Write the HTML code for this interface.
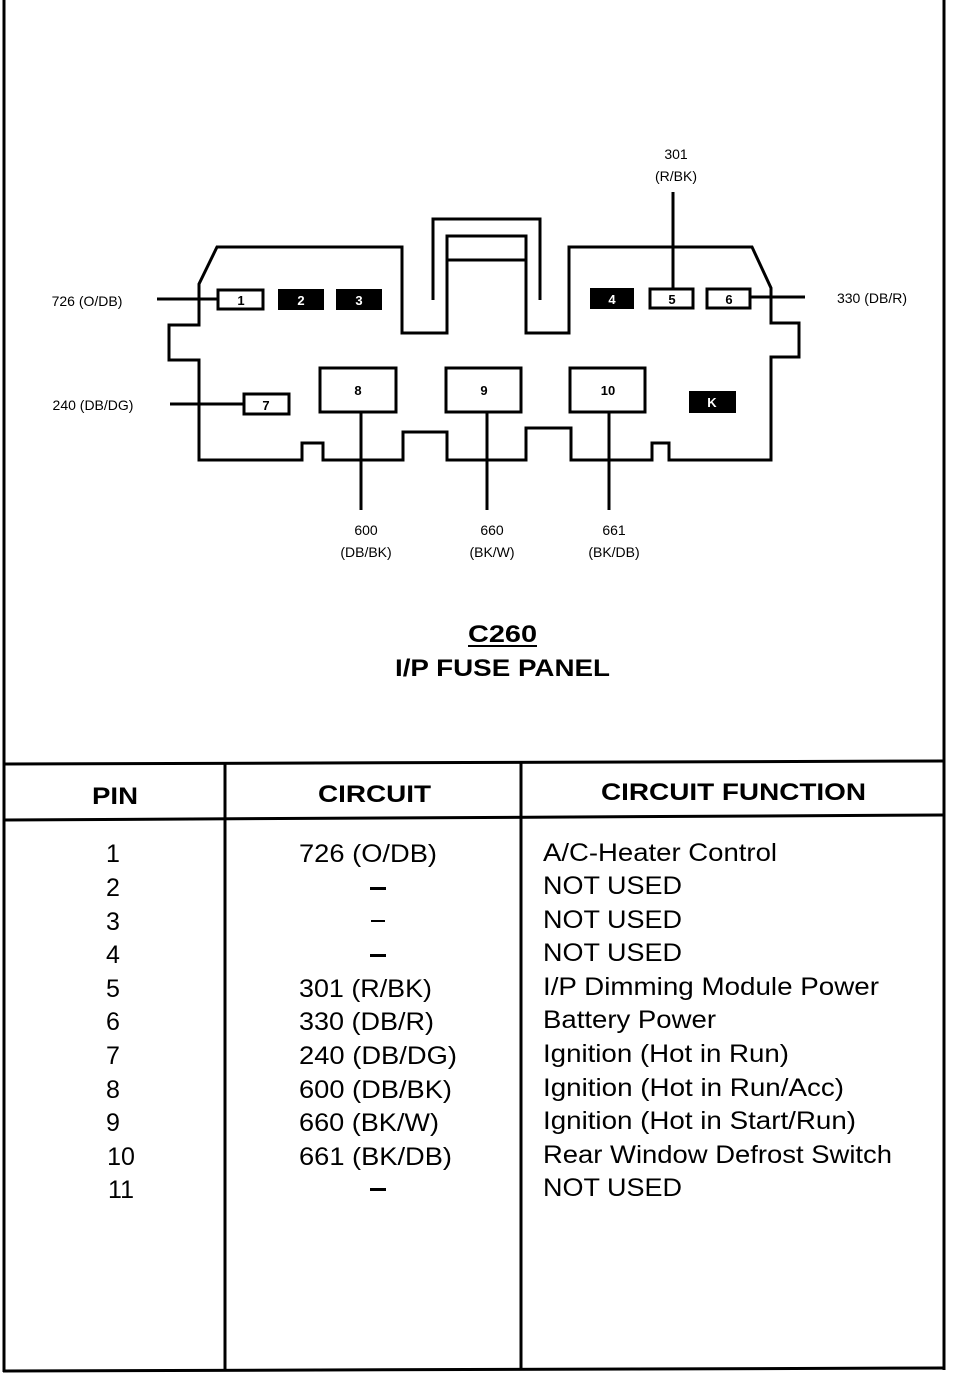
<!DOCTYPE html>
<html><head><meta charset="utf-8"><style>
html,body{margin:0;padding:0;background:#fff;}
svg{display:block;}
text{font-family:"Liberation Sans",Arial,sans-serif;fill:#000;}
</style></head><body>
<svg width="960" height="1378" viewBox="0 0 960 1378" xmlns="http://www.w3.org/2000/svg">
<g fill="none" stroke="#000" stroke-width="3">
<line x1="4" y1="0" x2="4" y2="1372"/>
<line x1="944" y1="0" x2="944" y2="1370"/>
<line x1="4" y1="764" x2="944" y2="761"/>
<line x1="4" y1="820" x2="944" y2="815"/>
<line x1="3" y1="1371" x2="944" y2="1368"/>
<line x1="225" y1="764" x2="225" y2="1371"/>
<line x1="521" y1="762" x2="521" y2="1369"/>
<path d="M217,247 L402,247 L402,333 L447,333 L447,236 L526,236 L526,333 L569,333 L569,247 L752,247 L771,288 L771,323 L799,323 L799,357 L771,357 L771,460 L669,460 L669,443 L652,443 L652,460 L571,460 L571,428 L526,428 L526,460 L447,460 L447,432 L403,432 L403,460 L323,460 L323,443 L302,443 L302,460 L199,460 L199,360 L169,360 L169,325 L199,325 L199,284 Z"/>
<path d="M433,300 L433,219 L540,219 L540,300"/>
<line x1="447" y1="260" x2="526" y2="260"/>
<rect x="218" y="290" width="45" height="19"/>
<rect x="650" y="289" width="43" height="19"/>
<rect x="707" y="289" width="43" height="19"/>
<rect x="244" y="394" width="45" height="20"/>
<rect x="320" y="368" width="76" height="44"/>
<rect x="446" y="368" width="75" height="44"/>
<rect x="570" y="368" width="75" height="44"/>
<line x1="157" y1="299" x2="218" y2="299"/>
<line x1="750" y1="297" x2="805" y2="297"/>
<line x1="673" y1="192" x2="673" y2="289"/>
<line x1="170" y1="404" x2="244" y2="404"/>
<line x1="361" y1="412" x2="361" y2="510"/>
<line x1="487" y1="412" x2="487" y2="510"/>
<line x1="609" y1="412" x2="609" y2="510"/>
</g>
<g fill="#000">
<rect x="278" y="289" width="46" height="21"/>
<rect x="336" y="289" width="46" height="21"/>
<rect x="590" y="288" width="44" height="21"/>
<rect x="689" y="391" width="47" height="22"/>
</g>
<g font-size="13" text-anchor="middle" font-weight="bold">
<text x="241" y="305">1</text>
<text x="301" y="305" style="fill:#fff">2</text>
<text x="359" y="305" style="fill:#fff">3</text>
<text x="612" y="304" style="fill:#fff">4</text>
<text x="672" y="304">5</text>
<text x="729" y="304">6</text>
<text x="266" y="410">7</text>
<text x="358" y="395">8</text>
<text x="484" y="395">9</text>
<text x="608" y="395">10</text>
<text x="712" y="407" style="fill:#fff">K</text>
</g>
<g font-size="14" text-anchor="middle">
<text x="676" y="159">301</text>
<text x="676" y="181">(R/BK)</text>
<text x="87" y="306">726 (O/DB)</text>
<text x="872" y="303">330 (DB/R)</text>
<text x="93" y="410">240 (DB/DG)</text>
<text x="366" y="535">600</text>
<text x="366" y="557">(DB/BK)</text>
<text x="492" y="535">660</text>
<text x="492" y="557">(BK/W)</text>
<text x="614" y="535">661</text>
<text x="614" y="557">(BK/DB)</text>
</g>
<g font-size="24" font-weight="bold">
<text x="468" y="642" textLength="69" lengthAdjust="spacingAndGlyphs">C260</text>
<text x="395" y="676" textLength="215" lengthAdjust="spacingAndGlyphs">I/P FUSE PANEL</text>
</g>
<line x1="468" y1="646" x2="537" y2="646" stroke="#000" stroke-width="2"/>
<g font-size="24" font-weight="bold">
<text x="92" y="804" textLength="46" lengthAdjust="spacingAndGlyphs">PIN</text>
<text x="318" y="802" textLength="113" lengthAdjust="spacingAndGlyphs">CIRCUIT</text>
<text x="601" y="800" textLength="265" lengthAdjust="spacingAndGlyphs">CIRCUIT FUNCTION</text>
</g>
<g font-size="25">
<g text-anchor="middle">
<text x="113" y="862">1</text>
<text x="113" y="896">2</text>
<text x="113" y="930">3</text>
<text x="113" y="963">4</text>
<text x="113" y="997">5</text>
<text x="113" y="1030">6</text>
<text x="113" y="1064">7</text>
<text x="113" y="1098">8</text>
<text x="113" y="1131">9</text>
<text x="121" y="1165">10</text>
<text x="121" y="1198">11</text>
</g>
<g font-weight="bold">
<rect x="370" y="887" width="16" height="3"/>
<rect x="371" y="920" width="14" height="2"/>
<rect x="370" y="954" width="16" height="3"/>
<rect x="370" y="1188" width="16" height="3"/>
</g>
<g lengthAdjust="spacingAndGlyphs">
<text x="299" y="862" textLength="138" lengthAdjust="spacingAndGlyphs">726 (O/DB)</text>
<text x="299" y="997" textLength="133" lengthAdjust="spacingAndGlyphs">301 (R/BK)</text>
<text x="299" y="1030" textLength="135" lengthAdjust="spacingAndGlyphs">330 (DB/R)</text>
<text x="299" y="1064" textLength="158" lengthAdjust="spacingAndGlyphs">240 (DB/DG)</text>
<text x="299" y="1098" textLength="153" lengthAdjust="spacingAndGlyphs">600 (DB/BK)</text>
<text x="299" y="1131" textLength="140" lengthAdjust="spacingAndGlyphs">660 (BK/W)</text>
<text x="299" y="1165" textLength="153" lengthAdjust="spacingAndGlyphs">661 (BK/DB)</text>
<text x="543" y="861" textLength="234" lengthAdjust="spacingAndGlyphs">A/C-Heater Control</text>
<text x="543" y="894" textLength="139" lengthAdjust="spacingAndGlyphs">NOT USED</text>
<text x="543" y="928" textLength="139" lengthAdjust="spacingAndGlyphs">NOT USED</text>
<text x="543" y="961" textLength="139" lengthAdjust="spacingAndGlyphs">NOT USED</text>
<text x="543" y="995" textLength="336" lengthAdjust="spacingAndGlyphs">I/P Dimming Module Power</text>
<text x="543" y="1028" textLength="173" lengthAdjust="spacingAndGlyphs">Battery Power</text>
<text x="543" y="1062" textLength="246" lengthAdjust="spacingAndGlyphs">Ignition (Hot in Run)</text>
<text x="543" y="1096" textLength="301" lengthAdjust="spacingAndGlyphs">Ignition (Hot in Run/Acc)</text>
<text x="543" y="1129" textLength="313" lengthAdjust="spacingAndGlyphs">Ignition (Hot in Start/Run)</text>
<text x="543" y="1163" textLength="349" lengthAdjust="spacingAndGlyphs">Rear Window Defrost Switch</text>
<text x="543" y="1196" textLength="139" lengthAdjust="spacingAndGlyphs">NOT USED</text>
</g>
</g>
</svg>
</body></html>
